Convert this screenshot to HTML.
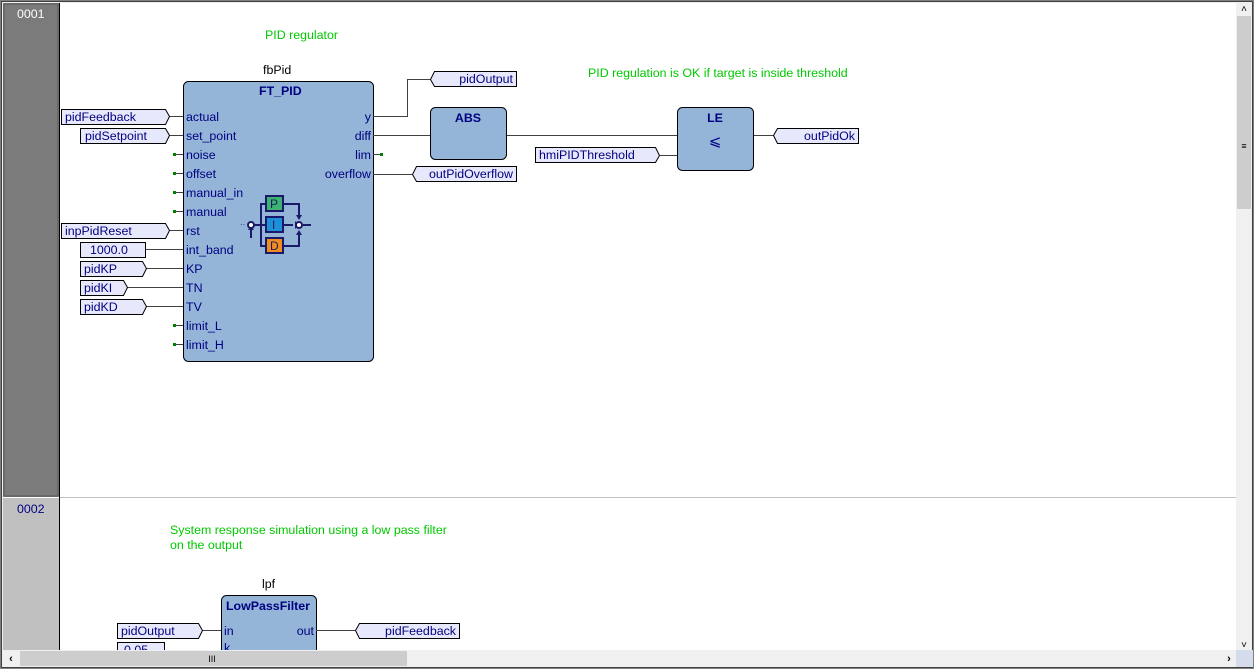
<!DOCTYPE html>
<html><head><meta charset="utf-8"><style>
html,body{margin:0;padding:0;background:#fff;}
svg{display:block;}
text{font-family:"Liberation Sans",Arial,sans-serif;font-size:12.4px;}
.b{fill:#000080;}
.g{fill:#00c800;}
.k{fill:#000;}
.w{stroke:#404040;stroke-width:1;fill:none;}
.v{fill:#e8e8fc;stroke:#000;stroke-width:1;}
.blk{fill:#94b4d8;stroke:#000;stroke-width:1;}
.hd{font-weight:bold;fill:#000080;}
</style></head><body>
<svg width="1254" height="669" viewBox="0 0 1254 669" xmlns="http://www.w3.org/2000/svg">
<rect x="0" y="0" width="1254" height="669" fill="#f0f0f0"/>
<rect x="0.5" y="0.5" width="1253" height="668" fill="none" stroke="#808080"/>
<rect x="1.5" y="1.5" width="1251" height="666" fill="none" stroke="#404040"/>
<rect x="3" y="3" width="1233" height="647" fill="#fff"/>
<rect x="3" y="3" width="56" height="494" fill="#7b7b7b"/>
<rect x="4" y="4" width="54" height="492" fill="none" stroke="#5a5a5a"/>
<rect x="3" y="498" width="56" height="152" fill="#c0c0c0"/>
<line x1="59.5" y1="3" x2="59.5" y2="650" stroke="#000"/>
<line x1="60" y1="497.5" x2="1236" y2="497.5" stroke="#c0c0c0"/>
<text x="17" y="18" fill="#fff">0001</text>
<text x="17" y="513" class="b">0002</text>

<text x="265" y="39" class="g">PID regulator</text>
<text x="588" y="77" class="g">PID regulation is OK if target is inside threshold</text>
<text x="263" y="74" class="k">fbPid</text>
<rect x="183.5" y="81.5" width="190" height="280" rx="5" class="blk"/>
<text x="259" y="95" class="hd">FT_PID</text>
<g class="b">
<text x="186" y="121">actual</text><text x="186" y="140">set_point</text><text x="186" y="159">noise</text>
<text x="186" y="178">offset</text><text x="186" y="197">manual_in</text><text x="186" y="216">manual</text>
<text x="186" y="235">rst</text><text x="186" y="254">int_band</text><text x="186" y="273">KP</text>
<text x="186" y="292">TN</text><text x="186" y="311">TV</text><text x="186" y="330">limit_L</text><text x="186" y="349">limit_H</text>
<text x="371" y="121" text-anchor="end">y</text><text x="371" y="140" text-anchor="end">diff</text>
<text x="371" y="159" text-anchor="end">lim</text><text x="371" y="178" text-anchor="end">overflow</text>
</g>
<g stroke="#404040"><line x1="174" y1="154.5" x2="183" y2="154.5"/><line x1="174" y1="173.5" x2="183" y2="173.5"/><line x1="174" y1="192.5" x2="183" y2="192.5"/><line x1="174" y1="211.5" x2="183" y2="211.5"/><line x1="174" y1="325.5" x2="183" y2="325.5"/><line x1="174" y1="344.5" x2="183" y2="344.5"/><line x1="373" y1="154.5" x2="382" y2="154.5"/></g>
<g fill="#008000"><rect x="173" y="153" width="3" height="3"/><rect x="173" y="172" width="3" height="3"/><rect x="173" y="191" width="3" height="3"/><rect x="173" y="210" width="3" height="3"/><rect x="173" y="324" width="3" height="3"/><rect x="173" y="343" width="3" height="3"/><rect x="380" y="153" width="3" height="3"/></g>
<g stroke="#1a1a6a" stroke-width="2" fill="none">
<path d="M254 225 H266"/><path d="M283 225 H293"/><path d="M261 225 V204 H266"/><path d="M283 204 H299 V217"/>
<path d="M261 225 V246 H266"/><path d="M283 246 H299 V233"/>
<path d="M251 229 V238"/><path d="M303 225 H311"/>
</g>
<g fill="#1a1a6a"><path d="M295 221 L295 229 L299 225 Z"/><path d="M296 215 L302 215 L299 220 Z"/><path d="M296 235 L302 235 L299 230 Z"/><path d="M248 230 L254 230 L251 226 Z"/></g>
<circle cx="251" cy="225" r="3" fill="#fff" stroke="#1a1a6a" stroke-width="2"/>
<circle cx="299" cy="225" r="3" fill="#fff" stroke="#1a1a6a" stroke-width="2"/>
<rect x="266" y="196" width="17" height="15" fill="#3cb371" stroke="#1a1a6a" stroke-width="2"/>
<rect x="266" y="217" width="17" height="15" fill="#1e90d8" stroke="#1a1a6a" stroke-width="2"/>
<rect x="266" y="238" width="17" height="15" fill="#f08c1e" stroke="#1a1a6a" stroke-width="2"/>
<text x="270" y="208" fill="#1a1a6a" style="font-size:12px">P</text>
<text x="272" y="229" fill="#1a1a6a" style="font-size:12px">I</text>
<text x="270" y="250" fill="#1a1a6a" style="font-size:12px">D</text>
<text x="240" y="227" fill="#1a1a6a" style="font-size:8px">··</text>
<text x="306" y="227" fill="#1a1a6a" style="font-size:8px">··</text>

<g class="w">
<line x1="169" y1="116.5" x2="183" y2="116.5"/><line x1="169" y1="135.5" x2="183" y2="135.5"/>
<line x1="169" y1="230.5" x2="183" y2="230.5"/><line x1="146" y1="249.5" x2="183" y2="249.5"/>
<line x1="146" y1="268.5" x2="183" y2="268.5"/><line x1="127" y1="287.5" x2="183" y2="287.5"/>
<line x1="146" y1="306.5" x2="183" y2="306.5"/>
</g>
<path class="v" d="M61.5 109.5 H165.5 L169.5 116.5 L165.5 124.5 H61.5 Z"/><text x="65" y="121" class="b">pidFeedback</text>
<path class="v" d="M80.5 128.5 H165.5 L169.5 135.5 L165.5 143.5 H80.5 Z"/><text x="85" y="140" class="b">pidSetpoint</text>
<path class="v" d="M61.5 223.5 H165.5 L169.5 230.5 L165.5 238.5 H61.5 Z"/><text x="65" y="235" class="b">inpPidReset</text>
<rect class="v" x="80.5" y="242.5" width="65" height="15"/><text x="90" y="254" class="b">1000.0</text>
<path class="v" d="M80.5 261.5 H142.5 L146.5 268.5 L142.5 276.5 H80.5 Z"/><text x="84" y="273" class="b">pidKP</text>
<path class="v" d="M80.5 280.5 H123.5 L127.5 287.5 L123.5 295.5 H80.5 Z"/><text x="84" y="292" class="b">pidKI</text>
<path class="v" d="M80.5 299.5 H142.5 L146.5 306.5 L142.5 314.5 H80.5 Z"/><text x="84" y="311" class="b">pidKD</text>

<g class="w">
<path d="M373 116.5 H407.5 V79.5 H430"/>
<line x1="373" y1="135.5" x2="430" y2="135.5"/>
<line x1="506" y1="135.5" x2="677" y2="135.5"/>
<line x1="660" y1="155.5" x2="677" y2="155.5"/>
<line x1="753" y1="135.5" x2="773" y2="135.5"/>
<line x1="373" y1="174.5" x2="412" y2="174.5"/>
</g>
<path class="v" d="M516.5 71.5 H434.5 L430.5 79.5 L434.5 86.5 H516.5 Z"/><text x="513" y="83" class="b" text-anchor="end">pidOutput</text>
<path class="v" d="M516.5 166.5 H416.5 L412.5 174.5 L416.5 181.5 H516.5 Z"/><text x="513" y="178" class="b" text-anchor="end">outPidOverflow</text>
<rect class="blk" x="430.5" y="107.5" width="76" height="52" rx="5"/><text x="468" y="122" class="hd" text-anchor="middle">ABS</text>
<rect class="blk" x="677.5" y="107.5" width="76" height="63" rx="5"/><text x="715" y="122" class="hd" text-anchor="middle">LE</text>
<text x="715" y="146" class="b" text-anchor="middle" style="font-size:15px">⩽</text>
<path class="v" d="M535.5 147.5 H655.5 L659.5 155.5 L655.5 162.5 H535.5 Z"/><text x="539" y="159" class="b">hmiPIDThreshold</text>
<path class="v" d="M858.5 128.5 H777.5 L773.5 135.5 L777.5 143.5 H858.5 Z"/><text x="855" y="140" class="b" text-anchor="end">outPidOk</text>

<text x="170" y="534" class="g">System response simulation using a low pass filter</text>
<text x="170" y="549" class="g">on the output</text>
<text x="262" y="588" class="k">lpf</text>
<rect class="blk" x="221.5" y="595.5" width="95" height="70" rx="5"/>
<text x="268" y="610" class="hd" text-anchor="middle">LowPassFilter</text>
<text x="224" y="635" class="b">in</text><text x="314" y="635" class="b" text-anchor="end">out</text>
<text x="224" y="652" class="b">k</text>
<g class="w"><line x1="202" y1="630.5" x2="221" y2="630.5"/><line x1="316" y1="630.5" x2="355" y2="630.5"/></g>
<path class="v" d="M117.5 623.5 H198.5 L202.5 630.5 L198.5 638.5 H117.5 Z"/><text x="121" y="635" class="b">pidOutput</text>
<path class="v" d="M459.5 623.5 H359.5 L355.5 630.5 L359.5 638.5 H459.5 Z"/><text x="456" y="635" class="b" text-anchor="end">pidFeedback</text>
<rect class="v" x="117.5" y="642.5" width="47" height="15"/><text x="124" y="654" class="b">0.05</text>

<rect x="1236" y="3" width="16" height="647" fill="#f0f0f0"/>
<rect x="1237" y="16" width="14" height="193" fill="#cdcdcd"/>
<text x="1244" y="12" text-anchor="middle" style="font-size:10px">˄</text>
<text x="1244" y="149" text-anchor="middle" style="font-size:9px">≡</text>
<text x="1244" y="648" text-anchor="middle" style="font-size:10px">˅</text>
<rect x="3" y="650" width="1233" height="17" fill="#f0f0f0"/>
<rect x="20" y="651" width="387" height="15" fill="#cdcdcd"/>
<text x="11" y="662" text-anchor="middle" style="font-size:11px;font-weight:bold">‹</text>
<text x="1229" y="662" text-anchor="middle" style="font-size:11px;font-weight:bold">›</text>
<text x="212" y="662" text-anchor="middle" style="font-size:9px">III</text>
<rect x="1236" y="650" width="17" height="17" fill="#d4dcec"/>
</svg>
</body></html>
